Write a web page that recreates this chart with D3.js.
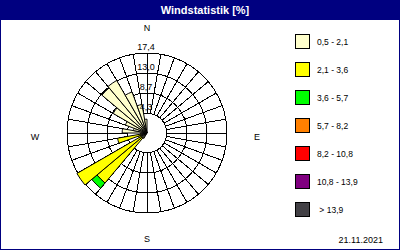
<!DOCTYPE html>
<html>
<head>
<meta charset="utf-8">
<script src="https://cdn.jsdelivr.net/npm/d3@7"></script>
<style>
  html, body { margin: 0; padding: 0; background: #fff; }
  svg { display: block; }
  text { font-family: "Liberation Sans", Arial, sans-serif; }
</style>
</head>
<body>
<svg id="chart" width="400" height="250"></svg>
<script>
// Sector centres in compass degrees (10° sectors)
const directions = d3.range(5, 360, 10);

// Frequency [%] per speed class and sector (index = sector)
const cls1 = [0,0,0,0,0,0,0,0,0,0, 0,0,0,0,0,0,0,0, 0,0,0,1.4,1.4,1.4, 1.4,1.4,1.4,5.4,3.0,5.0, 8.5,12.8,13.2,9.5,6.3,3.0];
const cls2 = [0,0,0,0,0,0,0,0,0,0, 0,0,0,0,0,0,0,0, 0,0,0,0,12.8,16.2, 0.6,5.1,0,0,0,0, 0,0,0,0,0,0];
const cls3 = [0,0,0,0,0,0,0,0,0,0, 0,0,0,0,0,0,0,0, 0,0,0,0,1.5,0, 0,0,0,0,0,0, 0,0,0,0,0,0];
const series = [cls1, cls2, cls3];

const classLabels = ["0,5 - 2,1", "2,1 - 3,6", "3,6 - 5,7", "5,7 - 8,2", "8,2 - 10,8", "10,8 - 13,9", " > 13,9"];
const classColors = ["#ffffcc", "#ffff00", "#00ff00", "#ff8000", "#ff0000", "#800080", "#424045"];

const ringValues = [4.3, 8.7, 13.0, 17.4];
const ringLabels = ["4,3", "8,7", "13,0", "17,4"];
const compass = [["N", 0, -102], ["E", 110, 7], ["S", 0, 109], ["W", -112, 7]];
const titleText = "Windstatistik [%]";
const dateText = "21.11.2021";

const svg = d3.select("#chart");
const W = 400, H = 250;
const cx = 147, cy = 133;

const r = d3.scaleLinear().domain([0, 17.4]).range([0, 80]);
const rad = d => d * Math.PI / 180;

// frame and title bar
svg.append("rect").attr("x", 0.5).attr("y", 0.5).attr("width", W - 1).attr("height", H - 1)
  .attr("fill", "#fff").attr("stroke", "#000080");
svg.append("rect").attr("x", 0).attr("y", 0).attr("width", W).attr("height", 20).attr("fill", "#000080");
svg.append("text").attr("x", 205).attr("y", 14).attr("text-anchor", "middle")
  .attr("fill", "#fff").attr("font-weight", "bold").attr("font-size", 11).text(titleText);

const g = svg.append("g").attr("transform", `translate(${cx},${cy})`);

// polar grid
const grid = g.append("g").attr("stroke", "#000").attr("fill", "none").attr("shape-rendering", "crispEdges");
grid.selectAll("circle").data(ringValues).join("circle")
  .attr("r", d => r(d)).attr("stroke-width", 1);
const spokes = d3.range(0, 360, 10);
grid.selectAll("line").data(spokes).join("line")
  .attr("x1", d => r(ringValues[0]) * Math.sin(rad(d)))
  .attr("y1", d => -r(ringValues[0]) * Math.cos(rad(d)))
  .attr("x2", d => r(17.4) * Math.sin(rad(d)))
  .attr("y2", d => -r(17.4) * Math.cos(rad(d)));

// stacked petals
const arc = d3.arc();
const petals = [];
directions.forEach((dir, i) => {
  let base = 0;
  series.forEach((s, k) => {
    const v = s[i];
    if (v > 0) {
      petals.push({ dir, k, r0: base, r1: base + v });
      base += v;
    }
  });
});
g.append("g").selectAll("path").data(petals).join("path")
  .attr("d", p => arc({
    innerRadius: r(p.r0), outerRadius: r(p.r1),
    startAngle: rad(p.dir - 5), endAngle: rad(p.dir + 5)
  }))
  .attr("fill", p => classColors[p.k])
  .attr("stroke", "#000").attr("stroke-width", 1);

// ring value labels
g.append("g").selectAll("text").data(ringValues).join("text")
  .attr("x", -1).attr("y", d => -r(d) - 3)
  .attr("text-anchor", "middle").attr("font-size", 9).attr("fill", "#000")
  .text((d, i) => ringLabels[i]);

// compass letters
g.append("g").selectAll("text").data(compass).join("text")
  .attr("x", d => d[1]).attr("y", d => d[2])
  .attr("text-anchor", "middle").attr("font-size", 9).attr("fill", "#000")
  .text(d => d[0]);

// legend
const lg = svg.append("g");
const items = lg.selectAll("g").data(classLabels).join("g")
  .attr("transform", (d, i) => `translate(295,${34 + 28 * i})`);
items.append("rect").attr("x", 0.5).attr("y", 0.5).attr("width", 14).attr("height", 14)
  .attr("fill", (d, i) => classColors[i]).attr("stroke", "#000");
items.append("text").attr("x", 22).attr("y", 11).attr("font-size", 8.5).attr("fill", "#000")
  .style("white-space", "pre").text(d => d);

svg.append("text").attr("x", 383).attr("y", 243).attr("text-anchor", "end")
  .attr("font-size", 9).attr("fill", "#000").text(dateText);
</script>
</body>
</html>
